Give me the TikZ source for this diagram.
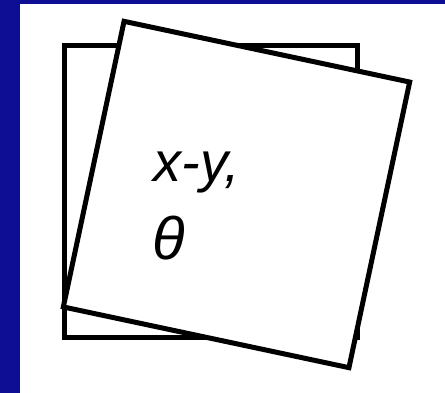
\documentclass[tikz,border=0pt]{standalone}
\usepackage{fontspec}
\setmainfont{Liberation Sans}
\definecolor{SLpozadina}{HTML}{0E0E94}
\colorlet{SLrub}{SLpozadina}
\begin{document}
\begin{tikzpicture}[x=1pt,y=-1pt,line width=5pt,line join=miter,
 SLtekst/.style={font=\fontsize{56}{60}\selectfont\itshape,anchor=base west,inner sep=0pt}]
\useasboundingbox (0,0) rectangle (445,393);
\fill[SLrub] (0,0) rectangle (445,393);
\fill[white] (20,4) rectangle (445,393);
\draw (64,46) rectangle (357,337);
\draw[fill=white,rotate around={-12:(236.5,194.5)}] (90.5,48.5) rectangle (382.5,340.5);
\node[SLtekst] (xy) at (151,182) {x-y,};
\node[SLtekst,font=\fontsize{60}{64}\selectfont\itshape] (theta) at (150,260) {θ};
\end{tikzpicture}
\end{document}
